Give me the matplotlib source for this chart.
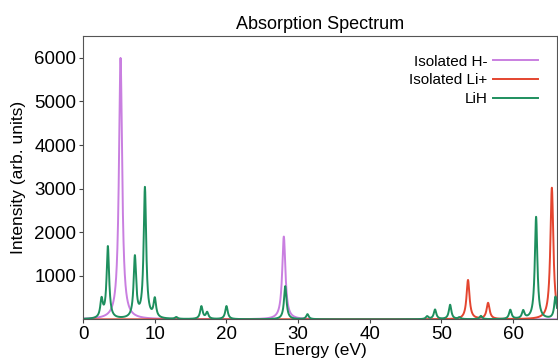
import numpy as np
import matplotlib.pyplot as plt

plt.rcParams['font.family'] = ['Liberation Sans', 'DejaVu Sans']

# peak positions (eV) and heights
h_pos = [5.22, 28.0]
h_amp = [6000, 1900]

li_pos = [53.7, 56.5, 65.4]
li_amp = [900, 370, 3020]

lih_pos = [2.57, 3.45, 7.22, 8.62, 10.0, 13.0, 16.5, 17.3, 20.0, 28.2, 31.3,
           48.0, 49.1, 51.2, 52.5, 55.5, 59.6, 61.4, 63.2, 65.9]
lih_amp = [420, 1650, 1400, 3000, 430, 40, 290, 150, 300, 760, 115,
           65, 220, 330, 40, 75, 210, 180, 2350, 510]

energy = np.linspace(0, 70, 4000)


def spectrum(pos, amp, gamma):
    y = np.zeros_like(energy)
    for p, a in zip(pos, amp):
        y += a * gamma**2 / ((energy - p)**2 + gamma**2)
    return y


fig, ax = plt.subplots(figsize=(5.58, 3.6), dpi=100)
fig.subplots_adjust(left=0.149, right=0.998, bottom=0.113, top=0.901)

ax.plot(energy, spectrum(h_pos, h_amp, 0.27), color='#c97fe0', lw=1.4, label='Isolated H-')
ax.plot(energy, spectrum(li_pos, li_amp, 0.25), color='#e4452f', lw=1.4, label='Isolated Li+')
ax.plot(energy, spectrum(lih_pos, lih_amp, 0.21), color='#1e8f5e', lw=1.4, label='LiH')

ax.set_xlim(0, 66.1)
ax.set_ylim(0, 6510)
ax.set_xticks([0, 10, 20, 30, 40, 50, 60])
ax.set_yticks([1000, 2000, 3000, 4000, 5000, 6000])
ax.tick_params(labelsize=13.5, length=3, color='#444444', pad=2)
for s in ax.spines.values():
    s.set_color('#555555')

ax.set_title('Absorption Spectrum', fontsize=13, pad=5)
ax.set_xlabel('Energy (eV)', fontsize=12.5, labelpad=0)
ax.set_ylabel('Intensity (arb. units)', fontsize=12.5, labelpad=6)
ax.legend(loc='upper right', frameon=False, markerfirst=False, fontsize=11,
          handlelength=2.9, handletextpad=0.4, labelspacing=0.3,
          borderaxespad=0.85)

plt.savefig('out.png', dpi=100)
